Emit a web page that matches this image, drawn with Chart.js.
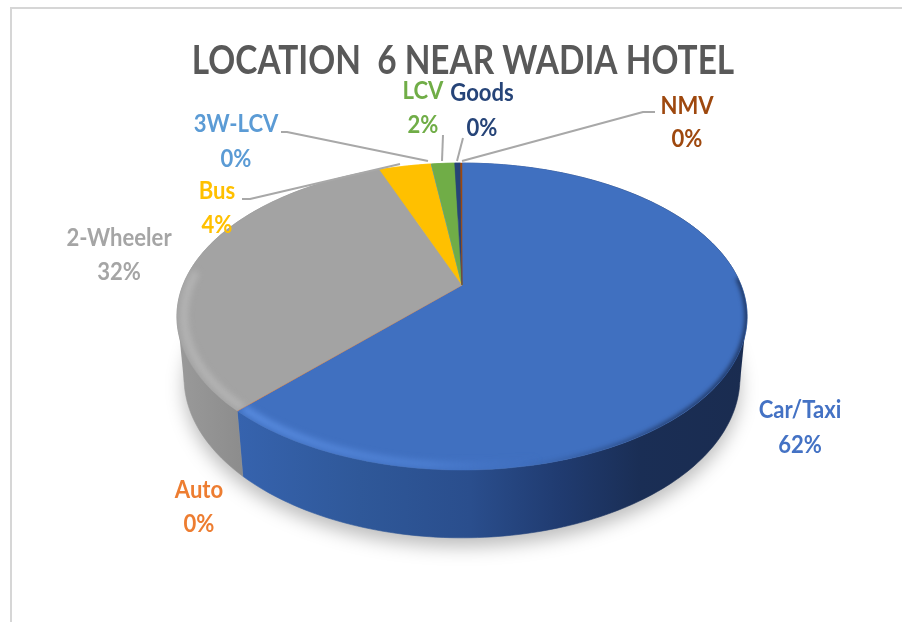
<!DOCTYPE html>
<html>
<head>
<meta charset="utf-8">
<style>html,body{margin:0;padding:0;background:#fff}canvas{display:block}</style>
<script src="https://cdn.jsdelivr.net/npm/chart.js@4"></script>
</head>
<body>
<canvas id="c" width="902" height="622"></canvas>
<script>
const categories = ['Car/Taxi','Auto','2-Wheeler','Bus','3W-LCV','LCV','Goods','NMV'];
const shares = [61.9,0.02,32.2,3.6,0.02,1.6,0.4,0.1];
const sliceColors = ['#4070C0','#ED7D31','#A3A3A3','#FFC000','#5B9BD5','#70AD47','#264478','#9E480E'];
const labelColors = ['#4472C4','#ED7D31','#A5A5A5','#FFC000','#5B9BD5','#70AD47','#264478','#9E480E'];
const chartTitle = 'LOCATION  6 NEAR WADIA HOTEL';

// page furniture, separate from the data
const labelPlaces = [[800,410,445],[199,490,524],[119,238,272],[217,191,225],[236,124,159],[423,91,125],[482,93,128],[687,106,139]];
const leaderPaths = [
  [[281,132],[287,132],[428,161]],
  [[242,199],[250,199],[400,164]],
  [[443,135],[442,161]],
  [[463,138],[457,161]],
  [[655,112],[643,112],[462,161]]
];
const K = 0.2055;
const TOP = {cx:462, cy:285, R:279, r:147};
const BOT = {cx:462, cy:345, R:272, r:153.2};
const project = (g,a) => {
  const u = Math.cos(a), v = Math.sin(a), d = 1 - K*v;
  return [g.cx + g.R*u/d, g.cy + g.r*v/d];
};
const trace = (ctx,pts,move=true) => pts.forEach((p,i)=> (i===0&&move) ? ctx.moveTo(p[0],p[1]) : ctx.lineTo(p[0],p[1]));
const arcPts = (g,a0,a1) => {
  const n = Math.max(2,Math.ceil(Math.abs(a1-a0)/0.02)), out=[];
  for(let i=0;i<=n;i++) out.push(project(g,a0+(a1-a0)*i/n));
  return out;
};
const grad = (ctx,stops) => {
  const g = ctx.createLinearGradient(stops[0][0],0,stops[stops.length-1][0],0);
  const w = stops[stops.length-1][0]-stops[0][0];
  stops.forEach(s=>g.addColorStop((s[0]-stops[0][0])/w,s[1]));
  return g;
};
const squeezedText = (ctx,text,x,y,sx) => {
  ctx.save(); ctx.translate(x,y); ctx.scale(sx,1); ctx.fillText(text,0,0); ctx.restore();
};

const pie3d = {
  id:'pie3d',
  beforeDraw(chart){
    const ctx = chart.ctx;
    ctx.save();
    ctx.fillStyle='#fff'; ctx.fillRect(0,0,902,622);
    ctx.strokeStyle='#d6d6d6'; ctx.lineWidth=2;
    ctx.beginPath(); ctx.moveTo(11,622); ctx.lineTo(11,8); ctx.lineTo(902,8); ctx.stroke();
    ctx.restore();
  },
  beforeDatasetsDraw(chart){
    const ctx = chart.ctx, arcs = chart.getDatasetMeta(0).data;
    const full = [-Math.PI/2, Math.PI*1.5];
    ctx.save();
    ctx.save();
    ctx.filter='blur(9px)';
    ctx.fillStyle='rgba(0,0,0,0.26)';
    ctx.beginPath(); trace(ctx,arcPts(BOT,...full).map(p=>[p[0],p[1]+9])); ctx.closePath(); ctx.fill();
    ctx.restore();
    const wallBlue = grad(ctx,[[238,'#3663AE'],[360,'#2F5899'],[470,'#2A4E8D'],[560,'#203B70'],[640,'#1A2E55'],[750,'#1A2C50']]);
    const wallGray = grad(ctx,[[175,'#9A9A9A'],[245,'#8C8C8C']]);
    // flanks: join the widest points of the top face and of the base
    ctx.fillStyle=wallGray;
    ctx.beginPath(); ctx.moveTo(177,312); ctx.lineTo(184,382); ctx.lineTo(260,382); ctx.lineTo(260,312); ctx.closePath(); ctx.fill();
    ctx.fillStyle=wallBlue;
    ctx.beginPath(); ctx.moveTo(747,312); ctx.lineTo(740,382); ctx.lineTo(660,382); ctx.lineTo(660,312); ctx.closePath(); ctx.fill();
    arcs.forEach((arc,i)=>{
      const a0=arc.startAngle, a1=arc.endAngle;
      if(a1-a0<0.01) return;
      ctx.beginPath();
      trace(ctx,arcPts(TOP,a0,a1));
      trace(ctx,arcPts(BOT,a1,a0),false);
      ctx.closePath();
      const fill = i===0?wallBlue : i===2?wallGray : sliceColors[i];
      ctx.fillStyle=fill; ctx.strokeStyle=fill; ctx.lineWidth=0.6; ctx.fill(); ctx.stroke();
    });
    arcs.forEach((arc,i)=>{
      if(arc.endAngle-arc.startAngle<0.001) return;
      ctx.beginPath();
      ctx.moveTo(TOP.cx,TOP.cy);
      trace(ctx,arcPts(TOP,arc.startAngle,arc.endAngle),false);
      ctx.closePath();
      ctx.fillStyle=sliceColors[i]; ctx.strokeStyle=sliceColors[i]; ctx.lineWidth=0.5; ctx.fill(); ctx.stroke();
    });
    ctx.save();
    ctx.beginPath(); trace(ctx,arcPts(TOP,...full)); ctx.closePath(); ctx.clip();
    const inset = (p,t)=>[TOP.cx+(p[0]-TOP.cx)*t, TOP.cy+(p[1]-TOP.cy)*t];
    const rim = (a0,a1,style,t,w,b)=>{
      ctx.save();
      ctx.filter=`blur(${b}px)`;
      ctx.strokeStyle=style; ctx.lineWidth=w; ctx.lineCap='butt';
      ctx.beginPath(); trace(ctx,arcPts(TOP,a0,a1).map(p=>inset(p,t))); ctx.stroke();
      ctx.restore();
    };
    const car = arcs[0], two = arcs[2];
    ctx.save();
    ctx.beginPath(); ctx.moveTo(TOP.cx,TOP.cy); trace(ctx,arcPts(TOP,car.startAngle,car.endAngle),false); ctx.closePath(); ctx.clip();
    rim(0.7,car.endAngle,grad(ctx,[[238,'rgba(98,150,235,0.8)'],[430,'rgba(88,140,225,0.55)'],[540,'rgba(70,115,200,0)'],[750,'rgba(70,115,200,0)']]),0.975,7,3);
    rim(-0.05,1.5,grad(ctx,[[520,'rgba(26,46,85,0)'],[600,'rgba(26,46,85,0.35)'],[680,'rgba(26,46,85,0.75)'],[750,'rgba(26,46,85,0.9)']]),1.0,5,2);
    ctx.restore();
    ctx.save();
    ctx.beginPath(); ctx.moveTo(TOP.cx,TOP.cy); trace(ctx,arcPts(TOP,two.startAngle,two.endAngle),false); ctx.closePath(); ctx.clip();
    rim(two.startAngle,Math.PI*1.03,'rgba(190,190,190,0.7)',0.975,7,3);
    ctx.restore();
    ctx.restore();
    ctx.restore();
    return false;
  },
  afterDraw(chart){
    const ctx = chart.ctx;
    ctx.save();
    ctx.strokeStyle='#A8A8A8'; ctx.lineWidth=2; ctx.lineJoin='round';
    leaderPaths.forEach(p=>{ctx.beginPath(); trace(ctx,p); ctx.stroke();});
    const total = shares.reduce((a,b)=>a+b,0);
    ctx.textAlign='center'; ctx.textBaseline='middle';
    ctx.font='bold 40px Lato, "Noto Sans", sans-serif';
    ctx.fillStyle='#595959';
    squeezedText(ctx,chartTitle,463,61,0.835);
    ctx.font='bold 24px Lato, "Noto Sans", sans-serif';
    categories.forEach((name,i)=>{
      const [x,y1,y2]=labelPlaces[i];
      ctx.fillStyle=labelColors[i];
      squeezedText(ctx,name,x,y1,0.92);
      squeezedText(ctx,Math.round(shares[i]/total*100)+'%',x,y2,0.92);
    });
    ctx.restore();
  }
};

new Chart(document.getElementById('c'),{
  type:'pie',
  data:{labels:categories,datasets:[{data:shares,backgroundColor:sliceColors,borderWidth:0}]},
  options:{
    responsive:false,animation:false,
    plugins:{legend:{display:false},tooltip:{enabled:false},title:{display:false}}
  },
  plugins:[pie3d]
});
</script>
</body>
</html>
